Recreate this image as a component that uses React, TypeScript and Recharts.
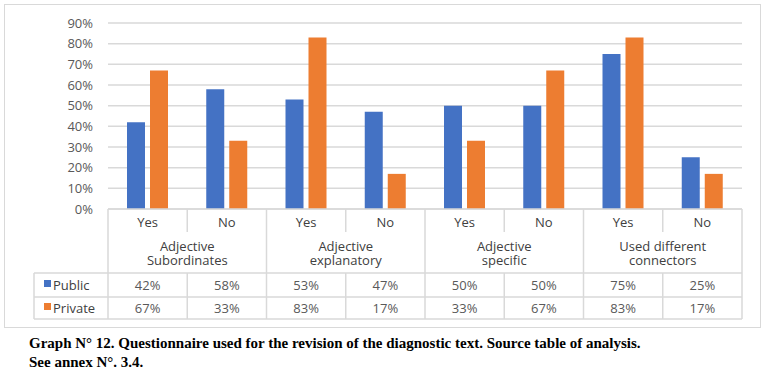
import { Bar, BarChart, CartesianGrid, XAxis, YAxis } from "recharts";

const answers = ["Yes", "No", "Yes", "No", "Yes", "No", "Yes", "No"];
const groups = [
  ["Adjective", "Subordinates"],
  ["Adjective", "explanatory"],
  ["Adjective", "specific"],
  ["Used different", "connectors"],
];
const publicValues = [42, 58, 53, 47, 50, 50, 75, 25];
const privateValues = [67, 33, 83, 17, 33, 67, 83, 17];
const yTicks = [0, 10, 20, 30, 40, 50, 60, 70, 80, 90];

const data = answers.map((a, i) => ({
  answer: a,
  pub: publicValues[i],
  priv: privateValues[i],
}));

const W = 755;
const H = 322;
const M = { top: 18, right: 18, bottom: 0, left: 43 };
const Y_W = 60;
const X_H = 118;
const BAND = (W - M.left - Y_W - M.right) / answers.length;

const BLUE = "#4472C4";
const ORANGE = "#ED7D31";
const LINE = "#d9d9d9";
const DARK = "#404040";
const GREY = "#595959";

function TableTick(props: any) {
  const { x, y, payload } = props;
  const i = payload.index;
  const l = x - BAND / 2;
  const r = x + BAND / 2;
  const endOfGroup = i % 2 === 1;
  return (
    <g fontSize={13} textAnchor="middle">
      {i === 0 && (
        <g>
          <line x1={l} x2={l} y1={y} y2={y + 110} stroke={LINE} strokeWidth={1.5} />
          <line x1={l - 74} x2={l - 74} y1={y + 64} y2={y + 110} stroke={LINE} strokeWidth={1.5} />
          {[64, 88, 110].map((d) => (
            <line key={d} x1={l - 74} x2={l + BAND * answers.length} y1={y + d} y2={y + d} stroke={LINE} strokeWidth={1.5} />
          ))}
          <rect x={l - 64} y={y + 71} width={7} height={7} fill={BLUE} />
          <text x={l - 55} y={y + 76} dy="0.35em" textAnchor="start" fill={DARK}>Public</text>
          <rect x={l - 64} y={y + 94} width={7} height={7} fill={ORANGE} />
          <text x={l - 55} y={y + 99} dy="0.35em" textAnchor="start" fill={DARK}>Private</text>
        </g>
      )}
      {endOfGroup ? (
        <line x1={r} x2={r} y1={y} y2={y + 110} stroke={LINE} strokeWidth={1.5} />
      ) : (
        <g>
          <line x1={r} x2={r} y1={y} y2={y + 23} stroke={LINE} strokeWidth={1.5} />
          <line x1={r} x2={r} y1={y + 64} y2={y + 110} stroke={LINE} strokeWidth={1.5} />
          <text x={r} y={y + 37} dy="0.35em" fill={DARK}>
            <tspan x={r}>{groups[i / 2][0]}</tspan>
            <tspan x={r} dy={14.3}>{groups[i / 2][1]}</tspan>
          </text>
        </g>
      )}
      <text x={x} y={y + 13} dy="0.35em" fill={DARK}>{payload.value}</text>
      <text x={x} y={y + 76} dy="0.35em" fill={GREY}>{publicValues[i]}%</text>
      <text x={x} y={y + 99} dy="0.35em" fill={GREY}>{privateValues[i]}%</text>
    </g>
  );
}

export default function App() {
  return (
    <div style={{ position: "absolute", left: 0, top: 0, width: 781, height: 381, background: "#fff", fontFamily: "'Open Sans', sans-serif" }}>
      <div style={{ position: "absolute", left: 4, top: 4, width: W + 2, height: H + 2, border: `1px solid ${LINE}`, boxSizing: "border-box" }}>
        <BarChart width={W} height={H} data={data} margin={M} barSize={18} barGap={5}>
          <CartesianGrid vertical={false} stroke={LINE} strokeWidth={1.5} />
          <YAxis
            width={Y_W}
            domain={[0, 90]}
            ticks={yTicks}
            interval={0}
            tickFormatter={(v) => `${v}%`}
            axisLine={false}
            tickLine={false}
            tickSize={0}
            tickMargin={15}
            tick={{ fill: GREY, fontSize: 13 }}
          />
          <XAxis
            dataKey="answer"
            height={X_H}
            interval={0}
            tickSize={0}
            tickMargin={0}
            tickLine={false}
            axisLine={{ stroke: LINE, strokeWidth: 1.5 }}
            tick={<TableTick />}
          />
          <Bar dataKey="pub" name="Public" fill={BLUE} isAnimationActive={false} />
          <Bar dataKey="priv" name="Private" fill={ORANGE} isAnimationActive={false} />
        </BarChart>
      </div>
      <div style={{ position: "absolute", left: 29, top: 334, fontFamily: "'Liberation Serif', serif", fontWeight: "bold", fontSize: 15, lineHeight: "19px", color: "#000", whiteSpace: "nowrap" }}>
        Graph N° 12. Questionnaire used for the revision of the diagnostic text. Source table of analysis.
        <br />
        See annex N°. 3.4.
      </div>
    </div>
  );
}
